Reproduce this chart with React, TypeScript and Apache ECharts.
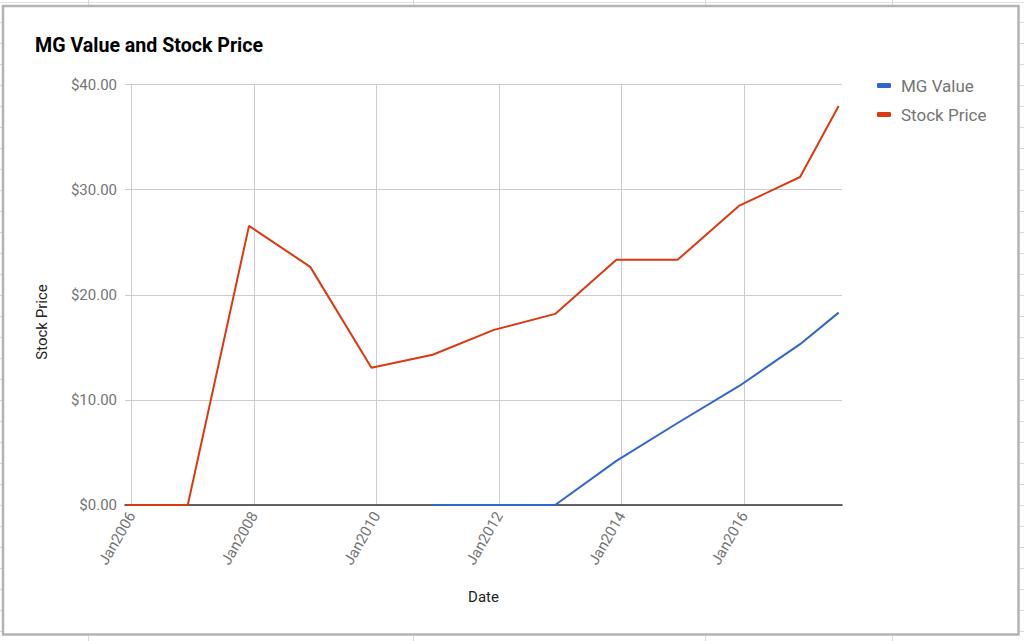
import React, { useEffect, useRef } from "react";
import * as echarts from "echarts";

// ---- data ----
const dates = [
  "2005-12-01", "2006-12-01", "2007-12-01", "2008-12-01", "2009-12-01",
  "2010-12-01", "2011-12-01", "2012-12-01", "2013-12-01", "2014-12-01",
  "2015-12-01", "2016-12-01", "2017-07-19",
];
const stockPrice = [0, 0, 26.55, 22.65, 13.05, 14.29, 16.66, 18.18, 23.32, 23.32, 28.45, 31.2, 37.95];
const mgValue = [null, null, null, null, null, 0, 0, 0, 4.2, 7.8, 11.3, 15.3, 18.3];
const yearTicks = [2006, 2008, 2010, 2012, 2014, 2016];
const seriesNames = ["MG Value", "Stock Price"];
const yAxisTitle = "Stock Price";

function toYear(s: string): number {
  const [y, m, d] = s.split("-").map(Number);
  const t = Date.UTC(y, m - 1, d);
  const a = Date.UTC(y, 0, 1);
  const b = Date.UTC(y + 1, 0, 1);
  return y + (t - a) / (b - a);
}

const FONT = "Roboto, 'Noto Sans', sans-serif";

export default function App() {
  const ref = useRef<HTMLDivElement>(null);
  useEffect(() => {
    if (!ref.current) return;
    const chart = echarts.init(ref.current, undefined, { renderer: "svg" });
    const xs = dates.map(toYear);

    const deco: any[] = [];
    // spreadsheet background lines outside the chart frame
    deco.push({ type: "line", shape: { x1: 0, y1: 2.5, x2: 1024, y2: 2.5 }, style: { stroke: "#e2e2e2", lineWidth: 1 }, silent: true });
    for (let y = 22.5; y < 641; y += 21) {
      deco.push({ type: "line", shape: { x1: 0, y1: y, x2: 2, y2: y }, style: { stroke: "#d8d8d8", lineWidth: 1 }, silent: true });
      deco.push({ type: "line", shape: { x1: 1020, y1: y, x2: 1024, y2: y }, style: { stroke: "#d8d8d8", lineWidth: 1 }, silent: true });
    }
    [88.5, 413.5, 705.5, 892.5].forEach((x) => {
      deco.push({ type: "line", shape: { x1: x, y1: 0, x2: x, y2: 5 }, style: { stroke: "#d8d8d8", lineWidth: 1 }, silent: true });
      deco.push({ type: "line", shape: { x1: x, y1: 636, x2: x, y2: 641 }, style: { stroke: "#d8d8d8", lineWidth: 1 }, silent: true });
    });
    deco.push({
      type: "rect",
      shape: { x: 3, y: 6, width: 1015.5, height: 628.5 },
      style: { fill: "none", stroke: "#b4b4b4", lineWidth: 2.5 },
      silent: true,
    });
    // y axis title (placed like the original, below the axis middle)
    deco.push({
      type: "text",
      x: 42,
      y: 322,
      rotation: Math.PI / 2,
      style: {
        text: yAxisTitle,
        fontFamily: FONT,
        fontSize: 15,
        fill: "#222222",
        align: "center",
        verticalAlign: "middle",
      },
      silent: true,
    });

    chart.setOption({
      animation: false,
      backgroundColor: "#ffffff",
      textStyle: { fontFamily: FONT },
      title: {
        text: "MG Value and Stock Price",
        left: 30,
        top: 30.5,
        textStyle: { fontFamily: FONT, fontSize: 19.6, fontWeight: "bold", color: "#000000" },
      },
      legend: {
        data: seriesNames.map((n) => ({ name: n, icon: "roundRect" })),
        orient: "vertical",
        left: 872,
        top: 72,
        itemWidth: 14,
        itemHeight: 5,
        itemGap: 12,
        textStyle: { fontFamily: FONT, fontSize: 17, color: "#757575", padding: [0, 0, 0, 5] },
      },
      grid: { left: 125, right: 182, top: 84.5, bottom: 136, containLabel: false },
      xAxis: {
        type: "value",
        min: 2005.89,
        max: 2017.6,
        name: "Date",
        nameLocation: "middle",
        nameGap: 84,
        nameTextStyle: { fontFamily: FONT, fontSize: 15, color: "#222222" },
        axisLine: { show: true, onZero: false, lineStyle: { color: "#333333", width: 1.5 } },
        axisTick: { show: false, customValues: yearTicks },
        axisLabel: {
          customValues: yearTicks,
          rotate: 60,
          margin: 8,
          color: "#757575",
          fontSize: 15,
          fontFamily: FONT,
          formatter: (v: number) => "Jan" + Math.round(v),
        },
        splitLine: { show: true, lineStyle: { color: "#cccccc", width: 1 } },
      },
      yAxis: {
        type: "value",
        min: 0,
        max: 40,
        interval: 10,
        axisLine: { show: false },
        axisTick: { show: false },
        axisLabel: {
          margin: 8,
          color: "#757575",
          fontSize: 15,
          fontFamily: FONT,
          formatter: (v: number) => "$" + v.toFixed(2),
        },
        splitLine: { show: true, lineStyle: { color: "#cccccc", width: 1 } },
      },
      series: [
        {
          name: seriesNames[0],
          type: "line",
          data: xs.map((x, i) => [x, mgValue[i]]),
          showSymbol: false,
          symbol: "none",
          connectNulls: false,
          color: "#3366cc",
          lineStyle: { color: "#3366cc", width: 2 },
        },
        {
          name: seriesNames[1],
          type: "line",
          data: xs.map((x, i) => [x, stockPrice[i]]),
          showSymbol: false,
          symbol: "none",
          color: "#dc3912",
          lineStyle: { color: "#dc3912", width: 2 },
        },
      ],
      graphic: deco,
    });
    return () => chart.dispose();
  }, []);
  return (
    <div
      ref={ref}
      style={{ position: "fixed", left: 0, top: 0, width: 1024, height: 641, background: "#fff" }}
    />
  );
}
